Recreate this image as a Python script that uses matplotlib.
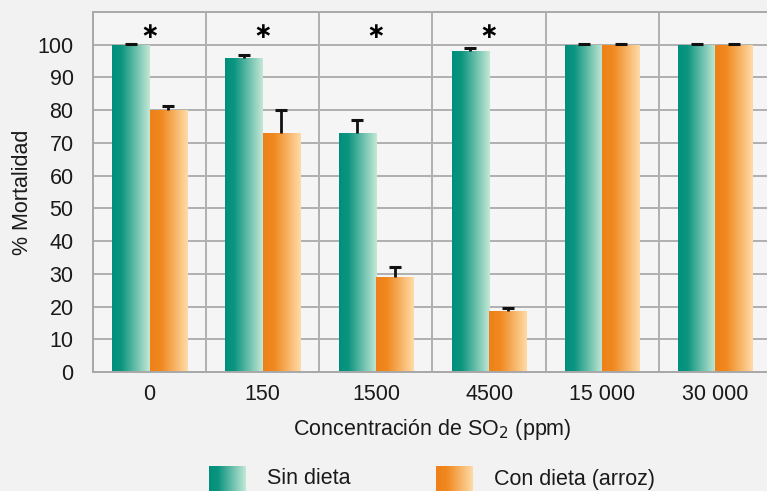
import numpy as np
import matplotlib
matplotlib.use("Agg")
import matplotlib.pyplot as plt
from matplotlib.colors import LinearSegmentedColormap

categories = ["0", "150", "1500", "4500", "15 000", "30 000"]
sin_dieta = [100, 96, 73, 98.2, 100, 100]
sin_err = [0.3, 0.8, 4.0, 0.9, 0.3, 0.3]
con_dieta = [80, 73, 29, 18.7, 100, 100]
con_err = [1.3, 7.0, 3.0, 1.0, 0.3, 0.3]
significant = [True, True, True, True, False, False]
yticks = list(range(0, 101, 10))

plt.rcParams['font.family'] = ['Liberation Sans', 'DejaVu Sans']
FS = 15.5

teal_cmap = LinearSegmentedColormap.from_list("teal", [(0, "#008f7d"), (0.25, "#0c957f"), (1, "#c4e8d6")])
orange_cmap = LinearSegmentedColormap.from_list("orange", [(0, "#ee8019"), (0.3, "#f0891f"), (1, "#fedba8")])

fig = plt.figure(figsize=(7.67, 4.91), dpi=100)
fig.patch.set_facecolor("#f2f2f2")
ax = fig.add_axes([93/767, (491-372)/491, 679/767, 360/491])
ax.set_facecolor("#f5f5f5")

x = np.arange(len(categories))
w = 0.33
grad = np.linspace(0, 1, 256).reshape(1, -1)

def grad_bars(xpos, vals, cmap):
    bars = ax.bar(xpos, vals, width=w, align="edge", color="none", zorder=2)
    for b in bars:
        im = ax.imshow(grad, cmap=cmap, aspect="auto",
                       extent=[b.get_x(), b.get_x() + b.get_width(), 0, b.get_height()],
                       zorder=2)
        im.set_clip_path(b)
    return bars

grad_bars(x - w, sin_dieta, teal_cmap)
grad_bars(x, con_dieta, orange_cmap)

for xs, vals, errs in [(x - w/2, sin_dieta, sin_err), (x + w/2, con_dieta, con_err)]:
    eb = ax.errorbar(xs, vals, yerr=[np.zeros(len(x)), errs], fmt="none",
                     ecolor="#111111", elinewidth=2, capsize=4.5, capthick=2.2, zorder=3)
    caps = eb[1]
    caps[0].set_visible(False)

for xi, s in zip(x, significant):
    if s:
        ax.text(xi, 104, "∗", ha="center", va="center", fontsize=16, fontweight="bold",
                family="DejaVu Sans", zorder=4)

ax.set_xlim(-0.5, len(categories) - 0.5)
ax.set_ylim(0, 110)
ax.set_yticks(yticks)
ax.set_xticks(x)
ax.set_xticklabels(categories)
ax.tick_params(axis="y", length=0, labelsize=FS, colors="#1a1a1a", pad=14)
ax.tick_params(axis="x", length=0, labelsize=FS, colors="#1a1a1a", pad=9)
ax.set_xticks(np.arange(-0.5, len(categories), 1), minor=True)
ax.tick_params(which="minor", length=0)
ax.grid(True, axis="y", which="major", color="#b0b0b0", lw=1.4, zorder=1)
ax.grid(True, axis="x", which="minor", color="#b0b0b0", lw=1.4, zorder=1)
ax.grid(False, axis="x", which="major")
ax.set_axisbelow(True)
for sp in ax.spines.values():
    sp.set_color("#a8a8a8")
    sp.set_linewidth(1.4)

ax.set_ylabel("% Mortalidad", fontsize=FS, color="#1a1a1a", labelpad=3)
ax.set_xlabel("Concentración de SO$_2$ (ppm)", fontsize=FS, color="#1a1a1a", labelpad=8)

# legend swatches
for (lx, label, cmap) in [(209, "Sin dieta", teal_cmap), (436, "Con dieta (arroz)", orange_cmap)]:
    sax = fig.add_axes([lx/767, 0, 37/767, 25/491])
    sax.imshow(grad, cmap=cmap, aspect="auto", extent=[0, 1, 0, 1])
    sax.set_axis_off()
    fig.text((lx + 58)/767, 12/491, label, fontsize=FS, color="#1a1a1a", va="center", ha="left")

fig.savefig("out.png", dpi=100, facecolor=fig.get_facecolor())
